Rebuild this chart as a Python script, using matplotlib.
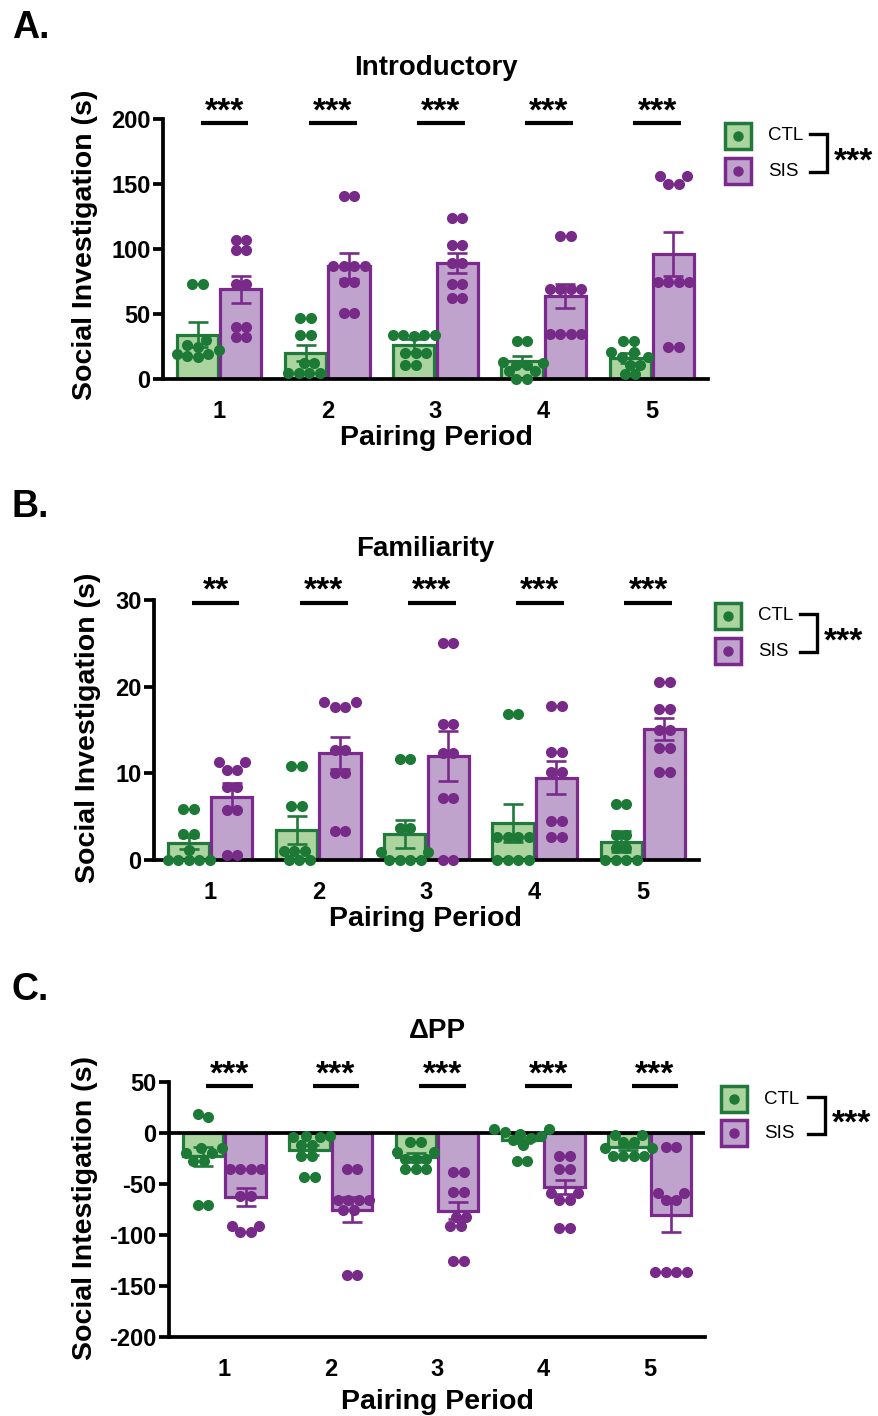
import matplotlib
matplotlib.use('Agg')
import matplotlib.pyplot as plt
import numpy as np
from matplotlib.patches import Rectangle
from matplotlib.lines import Line2D

plt.rcParams['font.family'] = ['Liberation Sans', 'DejaVu Sans']
plt.rcParams['font.weight'] = 'bold'
plt.rcParams['axes.unicode_minus'] = False

# ---------------- data ----------------
periods = ['1', '2', '3', '4', '5']

# Panel A: Introductory
intro_ctl_mean = [34, 20, 26, 14, 16]
intro_ctl_sem = [9.7, 6.4, 5.0, 4.0, 4.0]
intro_sis_mean = [69, 87, 89, 64, 96]
intro_sis_sem = [10.5, 10.0, 7.7, 9.4, 17.0]
intro_ctl_pts = [
    [73, 73, 26, 25, 19, 19, 22, 18, 17, 30],
    [47, 47, 34, 34, 12, 12, 5, 5, 5, 5],
    [34, 34, 34, 34, 33, 20, 20, 20, 11, 11],
    [29, 29, 13, 12, 11, 11, 6, 6, 0, 0],
    [29, 29, 21, 21, 17, 17, 11, 11, 4, 4],
]
intro_sis_pts = [
    [107, 107, 99, 99, 73, 73, 40, 40, 32, 32],
    [141, 141, 87, 87, 87, 87, 75, 75, 51, 51],
    [124, 124, 103, 103, 89, 89, 73, 73, 62, 62],
    [110, 110, 69, 69, 69, 69, 35, 35, 35, 35],
    [156, 156, 150, 150, 75, 75, 75, 75, 25, 25],
]
intro_sig = ['***', '***', '***', '***', '***']

# Panel B: Familiarity
fam_ctl_mean = [2.0, 3.5, 3.0, 4.3, 2.1]
fam_ctl_sem = [0.7, 1.6, 1.6, 2.2, 1.2]
fam_sis_mean = [7.3, 12.4, 12.0, 9.5, 15.1]
fam_sis_sem = [1.55, 1.85, 2.9, 1.9, 1.3]
fam_ctl_pts = [
    [5.9, 5.9, 3.0, 3.0, 1.2, 0, 0, 0, 0, 0],
    [10.8, 10.8, 6.2, 6.2, 1.0, 1.0, 1.0, 0, 0, 0],
    [11.6, 11.6, 3.7, 3.7, 0.9, 0.9, 0, 0, 0, 0],
    [16.9, 16.9, 2.7, 2.7, 2.7, 2.7, 0, 0, 0, 0],
    [6.5, 6.5, 2.9, 2.9, 1.35, 1.35, 0, 0, 0, 0],
]
fam_sis_pts = [
    [11.3, 11.3, 10.4, 10.4, 8.4, 8.4, 5.8, 5.8, 0.6, 0.6],
    [18.2, 18.2, 17.7, 17.7, 12.7, 12.7, 10.0, 10.0, 3.4, 3.4],
    [25.0, 25.0, 15.7, 15.7, 12.4, 12.4, 7.1, 7.1, 0, 0],
    [17.8, 17.8, 12.5, 12.5, 10.1, 10.1, 4.5, 4.5, 2.7, 2.7],
    [20.5, 20.5, 17.4, 17.4, 15.0, 15.0, 12.9, 12.9, 10.1, 10.1],
]
fam_sig = ['**', '***', '***', '***', '***']

# Panel C: Delta PP
dpp_ctl_mean = [-23, -17, -24, -7, -14]
dpp_ctl_sem = [9.6, 5.0, 4.0, 3.0, 3.0]
dpp_sis_mean = [-62.5, -75, -76, -53, -80.5]
dpp_sis_sem = [9.0, 12.6, 8.0, 6.5, 17.0]
dpp_ctl_pts = [
    [19, 16, -15, -15, -20, -20, -27, -27, -71, -71],
    [-3, -3, -4, -4, -12, -12, -23, -23, -43, -43],
    [-9, -9, -19, -19, -25, -25, -25, -35, -35, -35],
    [4, 4, 1, -1, -3, -5, -7, -12, -27, -27],
    [-2, -2, -9, -9, -15, -15, -23, -23, -23, -23],
]
dpp_sis_pts = [
    [-35, -35, -35, -35, -62, -62, -91, -91, -97, -97],
    [-35, -35, -66, -66, -66, -66, -75, -75, -139, -139],
    [-38, -38, -58, -58, -82, -82, -91, -91, -125, -125],
    [-23, -23, -35, -35, -59, -59, -66, -66, -93, -93],
    [-14, -14, -59, -59, -66, -66, -136, -136, -136, -136],
]
dpp_sig = ['***', '***', '***', '***', '***']

groups = ['CTL', 'SIS']

# ---------------- style ----------------
CTL_EDGE, CTL_FILL, CTL_DOT = '#217a3c', '#acd49f', '#1c7a36'
SIS_EDGE, SIS_FILL, SIS_DOT = '#7a2a8c', '#c0a3cd', '#772a88'
SPINE_LW = 2.7

W, H = 879, 1416
fig = plt.figure(figsize=(W / 100, H / 100), dpi=100)


def fx(x):
    return x / W


def fy(y):
    return 1 - y / H


def swarm(ax, xc, vals, d=10.5):
    T = ax.transData
    pxu = T.transform((1, 0))[0] - T.transform((0, 0))[0]
    ys = np.array([T.transform((0, v))[1] for v in vals])
    order = np.argsort(ys)
    cands = sorted(np.arange(-5, 5.01, 0.25) * d, key=lambda c: (abs(c), c))
    placed = []
    xs = np.zeros(len(vals))
    for i in order:
        y = ys[i]
        best = 0.0
        for c in cands:
            if all((c - px) ** 2 + (y - py) ** 2 >= (0.93 * d) ** 2 for px, py, _ in placed):
                best = c
                break
        placed.append((best, y, i))
        xs[i] = best
    n = len(vals)
    parent = list(range(n))

    def find(a):
        while parent[a] != a:
            parent[a] = parent[parent[a]]
            a = parent[a]
        return a
    for a in range(n):
        for b in range(a + 1, n):
            if (xs[a] - xs[b]) ** 2 + (ys[a] - ys[b]) ** 2 < (1.2 * d) ** 2:
                parent[find(a)] = find(b)
    comps = {}
    for a in range(n):
        comps.setdefault(find(a), []).append(a)
    for mem in comps.values():
        xs[mem] -= xs[mem].mean()
    return xc + xs / pxu


def panel(box, ylim, yticks, ctl_mean, ctl_sem, sis_mean, sis_sem,
          ctl_pts, sis_pts, sig, sig_y, zero_line=False):
    left, right, top, bottom = box
    ax = fig.add_axes([fx(left), fy(bottom), fx(right) - fx(left), fy(top) - fy(bottom)])
    ax.set_xlim(0.48, 5.52)
    ax.set_ylim(*ylim)
    for s in ['top', 'right']:
        ax.spines[s].set_visible(False)
    for s in ['left', 'bottom']:
        ax.spines[s].set_linewidth(SPINE_LW)
        ax.spines[s].set_capstyle('projecting')
    ax.set_yticks(yticks)
    ax.set_xticks(range(1, 6))
    ax.set_xticklabels(periods)
    ax.tick_params(axis='y', length=7, width=SPINE_LW, labelsize=17, pad=2)
    ax.tick_params(axis='x', length=0, labelsize=17, pad=15)
    ax.set_facecolor('none')
    xs = np.arange(1, 6)
    ax.bar(xs - 0.2, ctl_mean, width=0.38, color=CTL_FILL, edgecolor=CTL_EDGE,
           linewidth=2.3, zorder=2)
    ax.bar(xs + 0.2, sis_mean, width=0.38, color=SIS_FILL, edgecolor=SIS_EDGE,
           linewidth=2.3, zorder=2)
    if zero_line:
        ax.axhline(0, color='black', lw=SPINE_LW, zorder=2.5)
    ax.errorbar(xs - 0.2, ctl_mean, yerr=ctl_sem, fmt='none', ecolor=CTL_EDGE,
                elinewidth=1.9, capsize=7, capthick=1.9, zorder=3)
    ax.errorbar(xs + 0.2, sis_mean, yerr=sis_sem, fmt='none', ecolor=SIS_EDGE,
                elinewidth=1.9, capsize=7, capthick=1.9, zorder=3)
    for i in range(5):
        px = swarm(ax, xs[i] - 0.2, ctl_pts[i])
        ax.scatter(px, ctl_pts[i], s=64, color=CTL_DOT, linewidths=0, zorder=4, clip_on=False)
        px = swarm(ax, xs[i] + 0.2, sis_pts[i])
        ax.scatter(px, sis_pts[i], s=64, color=SIS_DOT, linewidths=0, zorder=4, clip_on=False)
        cx = xs[i] + 0.05
        ax.plot([cx - 0.22, cx + 0.22], [sig_y, sig_y], color='black', lw=3,
                solid_capstyle='butt', clip_on=False, zorder=5)
        ax.annotate(sig[i], (cx, sig_y), xytext=(0, 2), textcoords='offset points',
                    ha='center', va='baseline', fontsize=24, fontweight='bold',
                    annotation_clip=False)
    return ax


def legend(sq_x, y1, y2, text_x, br_right, star_x):
    for y, fill, edge, dot, lab in [(y1, CTL_FILL, CTL_EDGE, CTL_DOT, groups[0]),
                                    (y2, SIS_FILL, SIS_EDGE, SIS_DOT, groups[1])]:
        fig.add_artist(Rectangle((fx(sq_x - 13), fy(y + 13)), 26 / W, 26 / H,
                                 transform=fig.transFigure, facecolor=fill,
                                 edgecolor=edge, lw=2.5))
        fig.add_artist(Line2D([fx(sq_x)], [fy(y)], marker='o', ms=6.5, color=dot,
                              linestyle='none', transform=fig.transFigure))
        fig.text(fx(text_x), fy(y), lab, ha='left', va='center', fontsize=13.5,
                 fontweight='normal')
    fig.add_artist(Line2D([fx(br_right - 17), fx(br_right), fx(br_right), fx(br_right - 17)],
                          [fy(y1 - 2), fy(y1 - 2), fy(y2 + 1), fy(y2 + 1)],
                          lw=2.4, color='black', transform=fig.transFigure,
                          solid_joinstyle='miter'))
    ymid = (y1 + y2) / 2
    fig.text(fx(star_x), fy(ymid + 17), '***', ha='left', va='baseline',
             fontsize=24, fontweight='bold')


def label(x, y, s, size, rot=0, ha='center', va='center'):
    fig.text(fx(x), fy(y), s, ha=ha, va=va, fontsize=size, rotation=rot,
             fontweight='bold')


# Panel A
panel((163, 708, 119, 379), (0, 200), [0, 50, 100, 150, 200],
      intro_ctl_mean, intro_ctl_sem, intro_sis_mean, intro_sis_sem,
      intro_ctl_pts, intro_sis_pts, intro_sig, 197)
label(12, 28, 'A.', 27, ha='left')
label(436, 68, 'Introductory', 20)
label(436, 438, 'Pairing Period', 20.5)
label(85, 245, 'Social Investigation (s)', 20.5, rot=90)
legend(738, 136, 171, 768, 827, 834)

# Panel B
panel((154, 699, 600, 860), (0, 30), [0, 10, 20, 30],
      fam_ctl_mean, fam_ctl_sem, fam_sis_mean, fam_sis_sem,
      fam_ctl_pts, fam_sis_pts, fam_sig, 29.7)
label(12, 507, 'B.', 27, ha='left')
label(425, 549, 'Familiarity', 20)
label(425, 919, 'Pairing Period', 20.5)
label(88, 728, 'Social Investigation (s)', 20.5, rot=90)
legend(728, 616, 651, 758, 817, 824)

# Panel C
panel((169, 705, 1082, 1337), (-200, 50), [-200, -150, -100, -50, 0, 50],
      dpp_ctl_mean, dpp_ctl_sem, dpp_sis_mean, dpp_sis_sem,
      dpp_ctl_pts, dpp_sis_pts, dpp_sig, 46, zero_line=True)
label(12, 990, 'C.', 27, ha='left')
label(437, 1031, '\u0394PP', 20)
label(437, 1402, 'Pairing Period', 20.5)
label(85, 1208, 'Social Intestigation (s)', 20.5, rot=90)
legend(734, 1099, 1133, 764, 825, 832)

fig.savefig('out.png', dpi=100)
